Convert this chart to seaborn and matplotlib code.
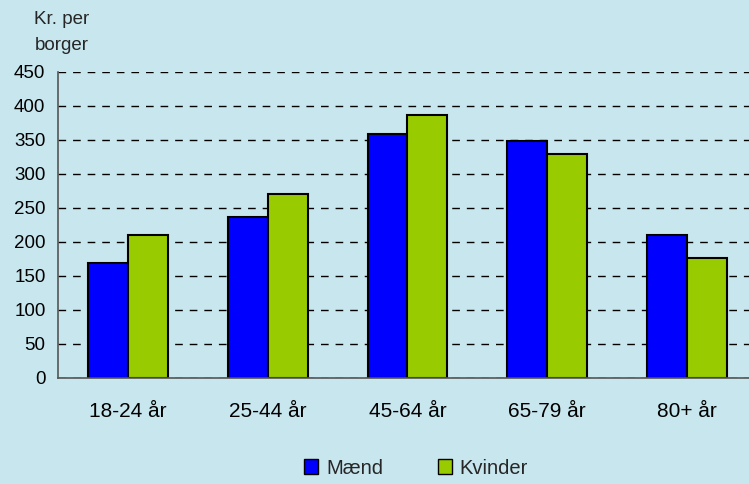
import matplotlib
matplotlib.use("Agg")
import matplotlib.pyplot as plt
import seaborn as sns
import pandas as pd
from matplotlib.patches import Patch

categories = ["18-24 år", "25-44 år", "45-64 år", "65-79 år", "80+ år"]
maend = [169, 237, 359, 348, 211]
kvinder = [210, 270, 387, 330, 177]
series_names = ["Mænd", "Kvinder"]
yticks = [0, 50, 100, 150, 200, 250, 300, 350, 400, 450]

df = pd.DataFrame({
    "Alder": categories * 2,
    "Værdi": maend + kvinder,
    "Køn": [series_names[0]] * len(categories) + [series_names[1]] * len(categories),
})

bg = "#C8E6EE"
colors = {"Mænd": "#0000FF", "Kvinder": "#99CC00"}

sns.set_theme(style="white")
plt.rcParams["font.family"] = ["Liberation Sans", "DejaVu Sans"]

fig = plt.figure(figsize=(7.49, 4.84), dpi=100, facecolor=bg)
W, H = 749, 484
ax = fig.add_axes([58 / W, 1 - 378 / H, 699 / W, 306 / H])
ax.set_facecolor(bg)

sns.barplot(data=df, x="Alder", y="Værdi", hue="Køn", palette=colors,
            width=0.572, edgecolor="black", linewidth=1.5, ax=ax,
            legend=False, saturation=1, errorbar=None)

ax.set_xlim(-0.5, 4.5)
ax.set_ylim(0, 450)
ax.set_yticks(yticks)
ax.set_yticklabels([str(t) for t in yticks], fontsize=13.5, color="black")
ax.set_xticks([i - 0.5 for i in range(len(categories) + 1)], minor=False)
ax.set_xticklabels([""] * (len(categories) + 1))
ax.set_xticks(range(len(categories)), minor=True)
ax.set_xticklabels(categories, minor=True, fontsize=15, color="black")
ax.tick_params(axis="x", which="major", direction="out", length=6, width=1, color="#333333")
ax.tick_params(axis="x", which="minor", length=0, pad=17)
ax.tick_params(axis="y", direction="out", length=6, width=1, color="#333333", pad=3)
ax.set_xlabel("")
ax.set_ylabel("")

ax.set_axisbelow(True)
ax.yaxis.grid(True, linestyle=(0, (5.5, 5)), color="black", linewidth=1)
ax.xaxis.grid(False)
for s in ["top", "right"]:
    ax.spines[s].set_visible(False)
for s in ["left", "bottom"]:
    ax.spines[s].set_color("#555555")
    ax.spines[s].set_linewidth(1.2)

fig.text(62 / W, 1 - 20 / H, "Kr. per", ha="center", va="center", fontsize=13.5)
fig.text(62 / W, 1 - 45 / H, "borger", ha="center", va="center", fontsize=13.5)

handles = [Patch(facecolor=colors[n], edgecolor="black", linewidth=1) for n in series_names]
fig.legend(handles, series_names, loc="center", bbox_to_anchor=(416 / W, 1 - 468 / H),
           ncol=2, frameon=False, fontsize=14.5, handlelength=0.7, handleheight=0.7,
           handletextpad=0.4, columnspacing=2.7)

fig.savefig("out.png", dpi=100, facecolor=bg)
